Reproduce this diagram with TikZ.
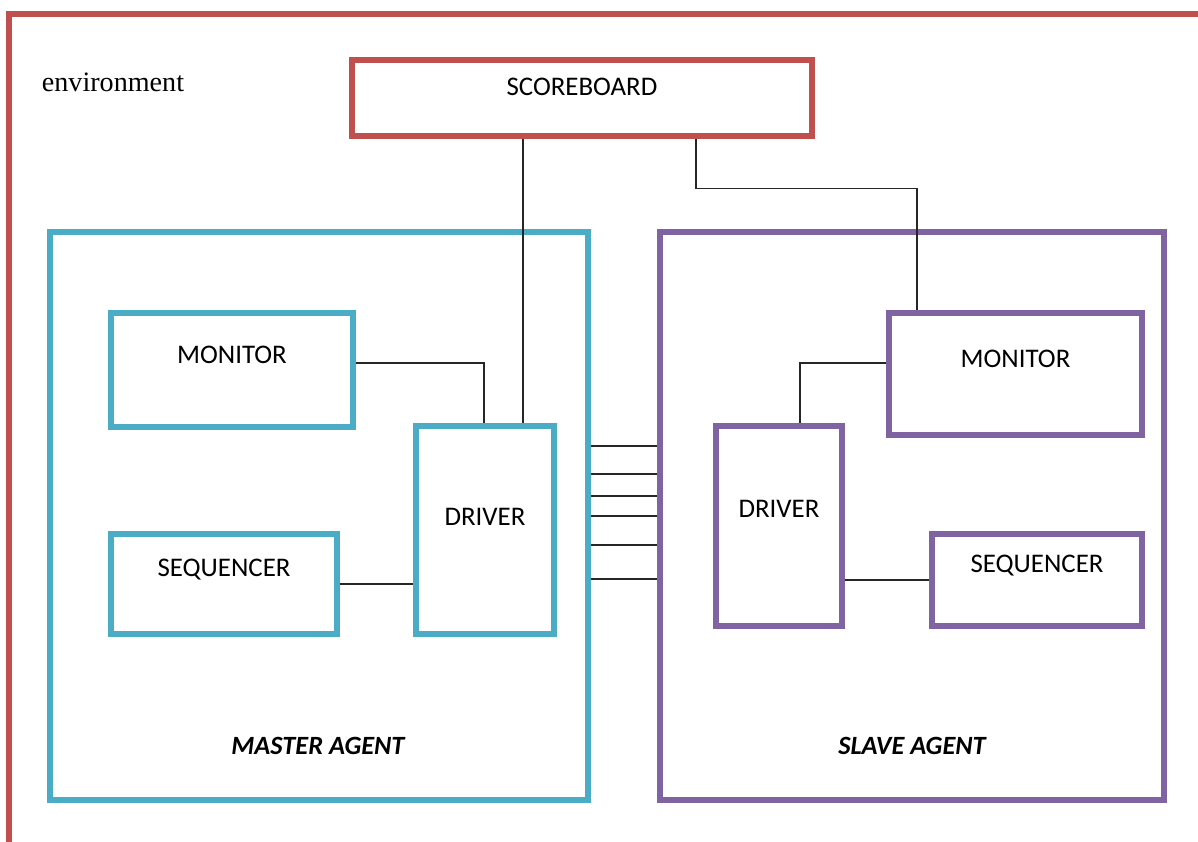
\documentclass[tikz,border=0pt]{standalone}
\usepackage{fontspec}
\setmainfont{Carlito}
\newfontfamily\envfont{Liberation Serif}
\usetikzlibrary{positioning}

\definecolor{envred}{HTML}{C0504D}
\definecolor{mblue}{HTML}{4BACC6}
\definecolor{spurple}{HTML}{8064A2}

\tikzset{
  envbox/.style={draw=envred, line width=3pt},
  mbox/.style={draw=mblue, line width=3pt, rectangle, inner sep=0pt},
  sbox/.style={draw=spurple, line width=3pt, rectangle, inner sep=0pt},
  boxtext/.style={font=\fontsize{15.3}{18}\selectfont, yshift=8.5pt},
  agentname/.style={font=\fontsize{15}{18}\selectfont\bfseries\itshape},
  wire/.style={draw=black!85, line width=0.9pt}
}

\begin{document}
\begin{tikzpicture}[x=0.2mm, y=-0.2mm]

\clip (0,0) rectangle (1198,841);
\fill[white] (0,0) rectangle (1198,841);

% environment frame
\draw[envbox] (9,14) rectangle (1240,900);
\node[font=\envfont\fontsize{16}{19}\selectfont] (envlbl) at (113,82) {environment};

% Nodes
\node[envbox, rectangle, minimum width=92mm, minimum height=15.2mm,
      label={[boxtext, yshift=-2pt]center:SCOREBOARD}] (sb) at (582,98) {};

\node[mbox, minimum width=107.6mm, minimum height=113.6mm] (mag) at (319,516) {};
\node[sbox, minimum width=100.8mm, minimum height=113.6mm] (sag) at (912,516) {};

\node[mbox, minimum width=48.4mm, minimum height=22.8mm, label={[boxtext]center:MONITOR}] (mmon) at (232,370) {};
\node[mbox, minimum width=27.6mm, minimum height=41.6mm, label={[boxtext, yshift=-1pt]center:DRIVER}] (mdrv) at (485,530) {};
\node[mbox, minimum width=45.2mm, minimum height=20mm, label={[boxtext]center:SEQUENCER}] (mseq) at (224,584) {};

\node[sbox, minimum width=50.6mm, minimum height=24.4mm, label={[boxtext]center:MONITOR}] (smon) at (1015.5,374) {};
\node[sbox, minimum width=25.2mm, minimum height=40mm, label={[boxtext, yshift=1pt]center:DRIVER}] (sdrv) at (779,526) {};
\node[sbox, minimum width=42mm, minimum height=18.4mm, label={[boxtext]center:SEQUENCER}] (sseq) at (1037,580) {};

\node[agentname] (mname) at (318,746) {MASTER AGENT};
\node[agentname] (sname) at (912,746) {SLAVE AGENT};

% Taps
\coordinate (tm) at (523,0);
\coordinate (ts) at (696,0);
\coordinate (tsm) at (917,0);

% Connectors
\draw[wire] (sb.south -| tm) -- (mdrv.north -| tm);
\draw[wire] (sb.south -| ts) -- ++(0,50) -| (smon.north -| tsm);

\draw[wire] ([yshift=4pt]mmon.east) -| ([xshift=-0.5pt]mdrv.north);
\draw[wire] (mseq.east) -- (mseq.east -| mdrv.west);

\draw[wire] ([yshift=6.2pt]smon.west) -| ([xshift=12pt]sdrv.north);
\draw[wire] (sseq.west) -- (sseq.west -| sdrv.east);

% bus between agents
\foreach \y in {446,474,496,516,545,579} {
  \coordinate (b\y) at (0,\y);
  \draw[wire] (mag.east |- b\y) -- (sag.west |- b\y);
}

\end{tikzpicture}
\end{document}
